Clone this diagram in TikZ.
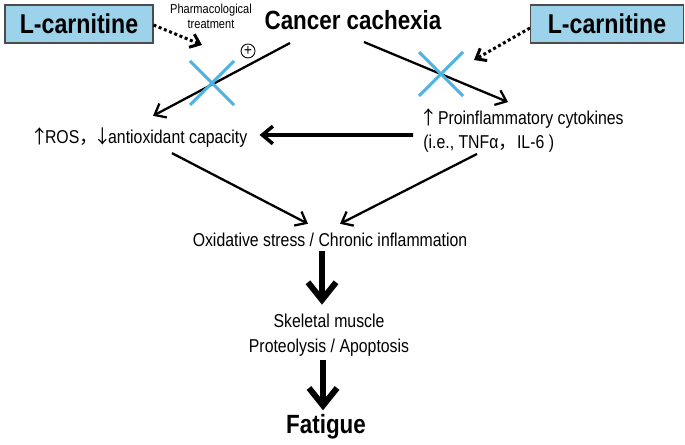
\documentclass[tikz,border=0pt]{standalone}
\usepackage{fontspec}
\setmainfont{Liberation Sans}[FakeStretch=0.85]
\newfontfamily\cjk{Noto Sans CJK SC}
\usetikzlibrary{arrows.meta,calc,positioning}
\definecolor{boxblue}{HTML}{9DD3EA}
\definecolor{crossblue}{HTML}{4DB3E0}
\newcommand\uparr{\makebox[0.55em]{\cjk ↑}}
\newcommand\downarr{\makebox[0.55em]{\cjk ↓}}

\begin{document}
\begin{tikzpicture}[x=0.02cm, y=-0.02cm,
    txt/.style={font=\fontsize{10.6}{14}\selectfont, inner sep=0pt},
    bigtxt/.style={font=\bfseries\fontsize{15}{18}\selectfont, inner sep=0pt},
    drugbox/.style={draw=black!70, fill=boxblue, line width=0.6pt, minimum height=0.76cm,
        font=\bfseries\fontsize{15.5}{18}\selectfont},
    thinarrow/.style={line width=1.3pt, -{Straight Barb[length=5.5pt,width=9pt]}},
    thickarrow/.style={line width=2pt, -{Straight Barb[length=6pt,width=10pt]}},
    dotarrow/.style={line width=1.7pt, dash pattern=on 1.7pt off 1.5pt,
        -{Straight Barb[length=5pt,width=8pt]}},
    bigarrow/.style={line width=3.4pt, -{Straight Barb[length=10pt,width=16pt]}},
    crossmark/.style={crossblue, line width=1.7pt}]

    \useasboundingbox (0,0) rectangle (685,445);

    % L-carnitine boxes
    \node[drugbox, minimum width=2.96cm] (carnL) at (79,24) {L-carnitine};
    \node[drugbox, minimum width=3.06cm] (carnR) at (607,24) {L-carnitine};
    \node[txt, font=\fontsize{7.4}{8.5}\selectfont, align=center] (pharma) at (211,16) {Pharmacological\\treatment};

    % Top and the two branches
    \node[bigtxt] (cachexia) at (353,20) {Cancer cachexia};
    \node[circle, draw, line width=0.5pt, inner sep=0pt, minimum size=0.28cm,
        font=\fontsize{9}{9}\selectfont] (plus) at (248,51) {+};
    \node[txt] (ros) at (141,138) {\uparr ROS{\cjk ，}\downarr antioxidant capacity};
    \node[txt, align=left, anchor=west] (cyto) at (423,130.5)
        {\uparr{} Proinflammatory cytokines\\(i.e., TNFα{\cjk ，}IL-6 )};

    % Lower chain
    \node[txt] (oxid) at (330,240) {Oxidative stress / Chronic inflammation};
    \node[txt, align=center] (muscle) at (329,335) {Skeletal muscle\\Proteolysis / Apoptosis};
    \node[bigtxt] (fatigue) at (326,427) {Fatigue};

    % Arrows from cancer cachexia
    \draw[thinarrow] ($(cachexia.south)+(-63,13)$) -- ($(ros.north)+(12,-12)$);
    \draw[thinarrow] ($(cachexia.south)+(11,12)$) -- ($(cyto.north west)+(85,-6)$);
    \draw[thickarrow] ($(cyto.west)+(-10,4.5)$) -- ($(ros.east)+(12,-3)$);

    % Arrows into oxidative stress
    \draw[thinarrow] ($(ros.south)+(31,5)$) -- ($(oxid.north)+(-22,-9)$);
    \draw[thinarrow] ($(cyto.south west)+(54,1)$) -- ($(oxid.north)+(10,-9)$);

    % Big down arrows
    \draw[bigarrow] ($(oxid.south)+(-8,4)$) -- ($(muscle.north)+(-7,-9)$);
    \draw[bigarrow] ($(muscle.south)+(-6,4)$) -- ($(fatigue.north)+(-3,-4)$);

    % L-carnitine blocks the two branches
    \coordinate (hitL) at (202,45);
    \coordinate (hitR) at (474,60);
    \draw[dotarrow] ($(carnL.east)+(0,1)$) -- (hitL);
    \draw[dotarrow] ($(carnR.west)+(0,4)$) -- (hitR);

    \coordinate (crossL) at (212,83);
    \coordinate (crossR) at (441,74);
    \foreach \c in {crossL,crossR}{
        \draw[crossmark] ($(\c)+(-22,-22)$) -- ($(\c)+(22,22)$);
        \draw[crossmark] ($(\c)+(22,-22)$) -- ($(\c)+(-22,22)$);
    }

\end{tikzpicture}
\end{document}
